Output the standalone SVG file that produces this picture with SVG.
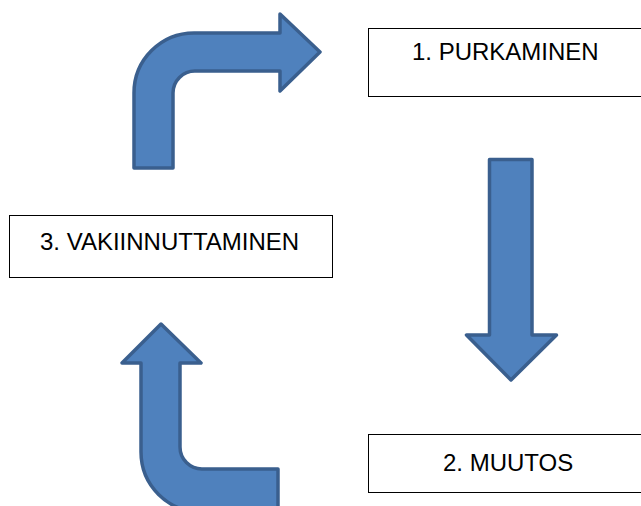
<svg xmlns="http://www.w3.org/2000/svg" width="641" height="506" viewBox="0 0 641 506">
<style>
.box{fill:#ffffff;stroke:#000000;stroke-width:1}
.lbl{font-family:"Liberation Sans",Arial,sans-serif;font-size:24px;fill:#000000}
.arr{fill:#4F81BD;stroke:#3A5F8E;stroke-width:3.5;stroke-linejoin:round}
</style>
<rect width="641" height="506" fill="#ffffff"/>
<g id="connectors">
<path id="arrow-top" class="arr" d="M134,168 L134,93 A60,60 0 0 1 194,33 L280,33 L280,14 L320,52 L280,91 L280,71 L195,71 A22,22 0 0 0 173,93 L173,168 Z"/>
<path id="arrow-down" class="arr" d="M489.5,159.5 L532,159.5 L532,335 L556.5,335 L511,380 L466.5,335 L489.5,335 Z"/>
<path id="arrow-up" class="arr" d="M161,324 L201,363 L180,363 L180,447 A22,22 0 0 0 202,469 L278,469 L278,512 L201,512 A60,60 0 0 1 141,452 L141,363 L122,363 Z"/>
</g>
<g id="node1">
<rect class="box" x="368.5" y="28.5" width="280" height="68"/>
<text class="lbl" x="412" y="60">1. PURKAMINEN</text>
</g>
<g id="node2">
<rect class="box" x="368.5" y="434.5" width="280" height="58"/>
<text class="lbl" x="443" y="471">2. MUUTOS</text>
</g>
<g id="node3">
<rect class="box" x="9.5" y="215.5" width="323" height="62"/>
<text class="lbl" x="40" y="250">3. VAKIINNUTTAMINEN</text>
</g>
</svg>
